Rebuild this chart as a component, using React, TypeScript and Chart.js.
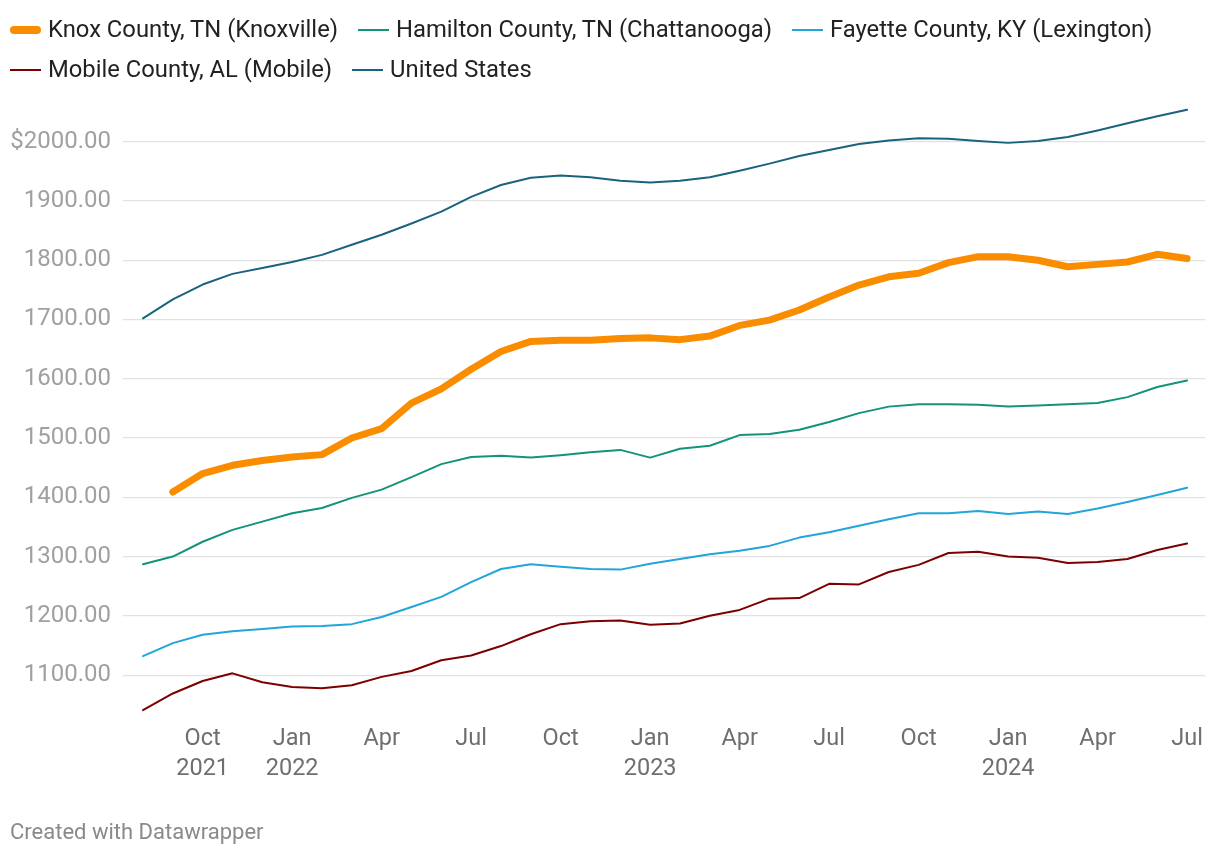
import React, { useEffect, useRef } from "react";
import { Chart, registerables } from "chart.js";

Chart.register(...registerables);

// Months: Aug 2021 .. Jul 2024
const months = [
  "2021-08", "2021-09", "2021-10", "2021-11", "2021-12",
  "2022-01", "2022-02", "2022-03", "2022-04", "2022-05", "2022-06", "2022-07", "2022-08", "2022-09", "2022-10", "2022-11", "2022-12",
  "2023-01", "2023-02", "2023-03", "2023-04", "2023-05", "2023-06", "2023-07", "2023-08", "2023-09", "2023-10", "2023-11", "2023-12",
  "2024-01", "2024-02", "2024-03", "2024-04", "2024-05", "2024-06", "2024-07",
];

const knox = [
  null, 1409, 1440, 1454, 1462, 1468, 1472, 1500, 1516, 1559, 1583, 1616,
  1646, 1663, 1665, 1665, 1668, 1669, 1666, 1672, 1690, 1699, 1716, 1738,
  1758, 1772, 1778, 1796, 1806, 1806, 1800, 1789, 1793, 1797, 1810, 1803,
];
const hamilton = [
  1287, 1300, 1325, 1345, 1359, 1373, 1382, 1399, 1413, 1434, 1456, 1468,
  1470, 1467, 1471, 1476, 1480, 1467, 1482, 1487, 1505, 1507, 1514, 1527,
  1542, 1553, 1557, 1557, 1556, 1553, 1555, 1557, 1559, 1569, 1586, 1597,
];
const fayette = [
  1132, 1154, 1168, 1174, 1178, 1182, 1183, 1186, 1198, 1215, 1232, 1257,
  1279, 1287, 1283, 1279, 1278, 1288, 1296, 1304, 1310, 1318, 1332, 1341,
  1352, 1363, 1373, 1373, 1377, 1372, 1376, 1372, 1381, 1392, 1404, 1416,
];
const mobile = [
  1041, 1069, 1090, 1103, 1088, 1080, 1078, 1083, 1097, 1107, 1125, 1133,
  1149, 1169, 1186, 1191, 1192, 1185, 1187, 1200, 1210, 1229, 1230, 1254,
  1253, 1274, 1286, 1306, 1308, 1300, 1298, 1289, 1291, 1296, 1311, 1322,
];
const unitedStates = [
  1702, 1734, 1759, 1777, 1787, 1797, 1809, 1826, 1843, 1862, 1882, 1907,
  1927, 1939, 1943, 1940, 1934, 1931, 1934, 1940, 1951, 1963, 1976, 1986,
  1996, 2002, 2006, 2005, 2001, 1998, 2001, 2008, 2019, 2031, 2043, 2054,
];

const seriesNames = [
  "Knox County, TN (Knoxville)",
  "Hamilton County, TN (Chattanooga)",
  "Fayette County, KY (Lexington)",
  "Mobile County, AL (Mobile)",
  "United States",
];
const seriesColors = ["#fa8c00", "#13937a", "#22a5d8", "#7c0000", "#19637e"];
const seriesWidths = [7, 2, 2, 2, 2];

const xTickMonths = [
  "2021-10", "2022-01", "2022-04", "2022-07", "2022-10", "2023-01",
  "2023-04", "2023-07", "2023-10", "2024-01", "2024-04", "2024-07",
];
const xTickLabels = [
  ["Oct", "2021"], ["Jan", "2022"], ["Apr"], ["Jul"], ["Oct"], ["Jan", "2023"],
  ["Apr"], ["Jul"], ["Oct"], ["Jan", "2024"], ["Apr"], ["Jul"],
];
const yTicks = [1100, 1200, 1300, 1400, 1500, 1600, 1700, 1800, 1900, 2000];
const yTickLabels = ["1100.00", "1200.00", "1300.00", "1400.00", "1500.00", "1600.00", "1700.00", "1800.00", "1900.00", "$2000.00"];

const FONT = "Roboto, 'Noto Sans', sans-serif";

export default function App() {
  const canvasRef = useRef<HTMLCanvasElement | null>(null);

  useEffect(() => {
    if (!canvasRef.current) return;
    const allSeries = [knox, hamilton, fayette, mobile, unitedStates];
    const datasets = allSeries.map((s, k) => ({
      label: seriesNames[k],
      data: s.map((v, i) => ({ x: i, y: v })),
      borderColor: seriesColors[k],
      backgroundColor: seriesColors[k],
      borderWidth: seriesWidths[k],
      borderCapStyle: "round" as const,
      borderJoinStyle: "round" as const,
      pointRadius: 0,
      tension: 0,
      fill: false,
      order: k === 0 ? 0 : 1,
    }));
    const xTickIdx = xTickMonths.map((m) => months.indexOf(m));

    const chart = new Chart(canvasRef.current, {
      type: "line",
      data: { datasets: datasets as any },
      options: {
        animation: false,
        responsive: false,
        layout: { padding: { top: 100.2, right: 15, bottom: 69.4, left: 0 } },
        plugins: { legend: { display: false }, tooltip: { enabled: false } },
        scales: {
          x: {
            type: "linear",
            min: -0.67,
            max: 35.6,
            grid: { display: false },
            border: { display: false },
            afterBuildTicks: (s: any) => {
              s.ticks = xTickIdx.map((v) => ({ value: v }));
            },
            afterFit: (s: any) => {
              s.height = 70;
            },
            ticks: {
              autoSkip: false,
              maxRotation: 0,
              padding: -1,
              color: "#6f6f6f",
              font: { family: FONT, size: 23.5, lineHeight: 1.28 },
              callback: (v: any) => {
                const k = xTickIdx.indexOf(Number(v));
                return k >= 0 ? xTickLabels[k] : "";
              },
            },
          },
          y: {
            min: 1030,
            max: 2070,
            afterBuildTicks: (s: any) => {
              s.ticks = yTicks.map((v) => ({ value: v }));
            },
            afterFit: (s: any) => {
              s.width = 123;
            },
            grid: { color: "#e2e2e2", lineWidth: 1.2, drawTicks: false },
            border: { display: false },
            ticks: {
              autoSkip: false,
              padding: 12,
              color: "#a0a0a0",
              font: { family: FONT, size: 24 },
              callback: (v: any) => {
                const k = yTicks.indexOf(Number(v));
                return k >= 0 ? yTickLabels[k] : "";
              },
            },
          },
        },
      },
    });
    return () => chart.destroy();
  }, []);

  const legendRows = [[0, 1, 2], [3, 4]];

  return (
    <div style={{ position: "fixed", left: 0, top: 0, width: 1220, height: 856, background: "#fff", overflow: "hidden" }}>
      <canvas ref={canvasRef} width={1220} height={856} style={{ position: "absolute", left: 0, top: 0, width: 1220, height: 856 }} />
      <div style={{ position: "absolute", left: 10, top: 10, fontFamily: FONT }}>
        {legendRows.map((row, r) => (
          <div key={r} style={{ display: "flex", alignItems: "center", height: 40 }}>
            {row.map((k) => (
              <div key={k} style={{ display: "flex", alignItems: "center", marginRight: 20 }}>
                <span
                  style={{
                    display: "inline-block",
                    width: 31,
                    height: k === 0 ? 8 : 2.5,
                    borderRadius: k === 0 ? 4 : 0,
                    background: seriesColors[k],
                    marginRight: 7,
                  }}
                />
                <span style={{ fontSize: 23.8, color: "#222", lineHeight: 1, whiteSpace: "nowrap" }}>{seriesNames[k]}</span>
              </div>
            ))}
          </div>
        ))}
      </div>
      <div style={{ position: "absolute", left: 10, top: 820, fontFamily: FONT, fontSize: 22, color: "#8a8a8a", lineHeight: "24px" }}>
        Created with Datawrapper
      </div>
    </div>
  );
}
